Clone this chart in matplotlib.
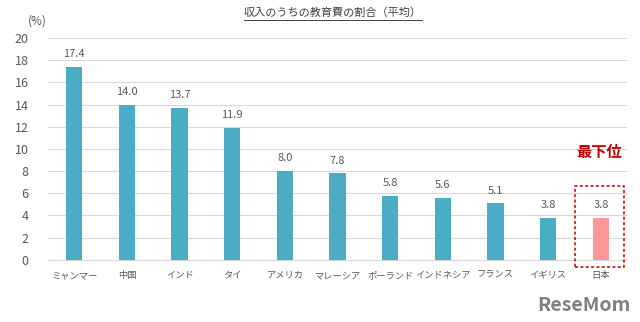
import matplotlib.pyplot as plt
from matplotlib.patches import Rectangle

plt.rcParams['font.family'] = ['Noto Sans CJK JP', 'DejaVu Sans']

countries = ["ミャンマー", "中国", "インド", "タイ", "アメリカ", "マレーシア",
             "ポーランド", "インドネシア", "フランス", "イギリス", "日本"]
shares = [17.4, 14.0, 13.7, 11.9, 8.0, 7.8, 5.8, 5.6, 5.1, 3.8, 3.8]
yticks = [0, 2, 4, 6, 8, 10, 12, 14, 16, 18, 20]

teal = "#4BACC6"
pink = "#FF9797"
dark_red = "#C00000"
text_gray = "#595959"

fig = plt.figure(figsize=(6.4, 3.22), dpi=100)
ax = fig.add_axes([0.075, 0.193, 0.905, 0.689])

x = list(range(len(countries)))
colors = [teal] * (len(countries) - 1) + [pink]
ax.bar(x, shares, width=0.31, color=colors, zorder=3)

for xi, v in zip(x, shares):
    ax.text(xi, v + 0.7, f"{v:.1f}", ha="center", va="bottom",
            fontsize=8, color=text_gray)

ax.set_xlim(-0.5, len(countries) - 0.5)
ax.set_ylim(0, 20)
ax.set_yticks(yticks)
ax.set_yticklabels([str(t) for t in yticks], fontsize=9, color=text_gray)
ax.set_xticks(x)
ax.set_xticklabels(countries, fontsize=6.7, color=text_gray)
ax.tick_params(axis="both", length=0)
ax.tick_params(axis="x", pad=8)
ax.tick_params(axis="y", pad=14)

ax.grid(axis="y", color="#D9D9D9", linewidth=0.8, zorder=0)
for side in ["top", "right", "left"]:
    ax.spines[side].set_visible(False)
ax.spines["bottom"].set_color("#D9D9D9")

# highlight the lowest-ranked country
box = Rectangle((9.5, -0.63), 0.93, 7.3, fill=False, edgecolor=dark_red,
                linestyle=(0, (2, 1.5)), linewidth=1.1, clip_on=False, zorder=4)
ax.add_patch(box)
ax.text(9.97, 9.7, "最下位", ha="center", va="center", fontsize=11,
        fontweight="bold", color=dark_red)

title = fig.text(0.52, 0.962, "収入のうちの教育費の割合（平均）", ha="center",
                 va="center", fontsize=8, color="#404040")
fig.canvas.draw()
bb = title.get_window_extent().transformed(fig.transFigure.inverted())
fig.add_artist(plt.Line2D([bb.x0, bb.x1], [0.937, 0.937], color="#404040",
                          linewidth=0.7))
fig.text(0.044, 0.935, "(%)", ha="left", va="center", fontsize=8.5,
         color=text_gray)

fig.text(0.985, 0.05, "ReseMom", ha="right", va="center", fontsize=14,
         fontweight="bold", color="#808080")

fig.savefig("out.png", dpi=100)
